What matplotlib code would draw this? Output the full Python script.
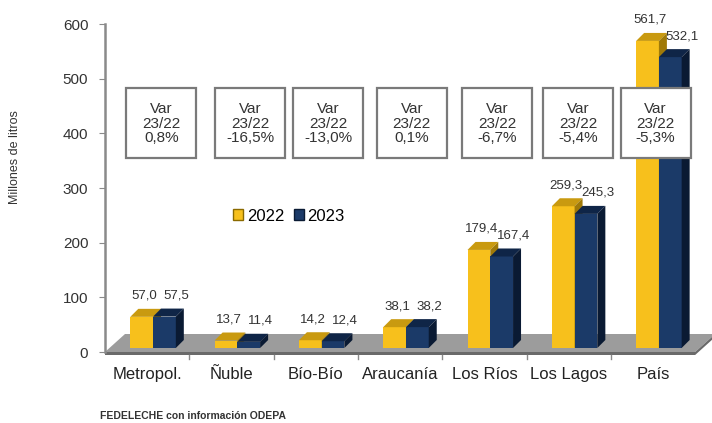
import matplotlib
matplotlib.use("Agg")
import matplotlib.pyplot as plt
from matplotlib.patches import Polygon, Rectangle, Patch

plt.rcParams['font.family'] = ['Liberation Sans', 'DejaVu Sans']

categories = ["Metropol.", "Ñuble", "Bío-Bío", "Araucanía", "Los Ríos", "Los Lagos", "País"]
values_2022 = [57.0, 13.7, 14.2, 38.1, 179.4, 259.3, 561.7]
values_2023 = [57.5, 11.4, 12.4, 38.2, 167.4, 245.3, 532.1]
labels_2022 = ["57,0", "13,7", "14,2", "38,1", "179,4", "259,3", "561,7"]
labels_2023 = ["57,5", "11,4", "12,4", "38,2", "167,4", "245,3", "532,1"]
var_labels = ["0,8%", "-16,5%", "-13,0%", "0,1%", "-6,7%", "-5,4%", "-5,3%"]
series_names = ["2022", "2023"]
yticks = [0, 100, 200, 300, 400, 500, 600]

YEL = "#f7c01c"
YEL_TOP = "#c99a10"
YEL_SIDE = "#a07a08"
BLU = "#1b3a68"
BLU_TOP = "#0f2547"
BLU_SIDE = "#0a1a33"

W, H = 712, 423
fig = plt.figure(figsize=(W / 100, H / 100), dpi=100)
# axes: px left 105, right 712, top 10, bottom 360
ax = fig.add_axes([105 / W, (H - 360) / H, 607 / W, 350 / H])
s = (352 - 24) / 600.0          # px per unit (y)
px_x = 607 / 7.2                 # px per unit (x)
ax.set_xlim(-0.5, 6.7)
ax.set_ylim(-8 / s, (352 - 10) / s)

def ux(p):
    return p / px_x

def uy(p):
    return p / s

# floor
fdx, fdy = ux(20), uy(18)
floor = Polygon([(-0.5, 0), (6.5, 0), (6.5 + fdx, fdy), (-0.5 + fdx, fdy)],
                closed=True, facecolor="#9c9c9c", edgecolor="none", zorder=1)
ax.add_patch(floor)
strip = Polygon([(-0.5, 0), (6.5, 0), (6.5 + fdx, fdy), (6.5 + fdx, fdy - uy(3)),
                 (6.5, -uy(3)), (-0.5, -uy(3))],
                closed=True, facecolor="#6a6a6a", edgecolor="none", zorder=1)
ax.add_patch(strip)
for k in range(1, 7):
    ax.plot([k - 0.5, k - 0.5], [-uy(3), -uy(7)], color="#8a8a8a", lw=1, zorder=1,
            clip_on=False)

# bars
bw = 0.27
base = uy(4)
bdx, bdy = ux(8), uy(8)
shift = 0.07

def bar3d(x, v, front, top, side, z):
    ax.bar([x], [v], width=bw, bottom=base, color=front, edgecolor="none", zorder=z)
    x0, x1 = x - bw / 2, x + bw / 2
    yt = base + v
    ax.add_patch(Polygon([(x0, yt), (x1, yt), (x1 + bdx, yt + bdy), (x0 + bdx, yt + bdy)],
                         closed=True, facecolor=top, edgecolor="none", zorder=z))
    ax.add_patch(Polygon([(x1, base), (x1 + bdx, base + bdy), (x1 + bdx, yt + bdy), (x1, yt)],
                         closed=True, facecolor=side, edgecolor="none", zorder=z))

for i in range(len(categories)):
    xy = i + shift - bw / 2
    xb = i + shift + bw / 2
    bar3d(xy, values_2022[i], YEL, YEL_TOP, YEL_SIDE, 2 + i * 0.1)
    bar3d(xb, values_2023[i], BLU, BLU_TOP, BLU_SIDE, 2.05 + i * 0.1)
    ax.annotate(labels_2022[i], (xy + bdx / 2, base + values_2022[i] + bdy),
                xytext=(-1, 5), textcoords="offset points", ha="center", va="bottom",
                fontsize=9.5, color="#333333", zorder=5)
    ax.annotate(labels_2023[i], (xb + bdx, base + values_2023[i] + bdy),
                xytext=(3, 5), textcoords="offset points", ha="center", va="bottom",
                fontsize=9.5, color="#333333", zorder=5)

# variation boxes
bxw, bxh = ux(70), uy(70)
by = uy(352 - 123.5)
box_off = [0.17, 0.22, 0.15, 0.14, 0.15, 0.11, 0.03]
for i, lab in enumerate(var_labels):
    cx = i + box_off[i]
    ax.add_patch(Rectangle((cx - bxw / 2, by - bxh / 2), bxw, bxh, facecolor="white",
                           edgecolor="#7a7a7a", lw=1.6, zorder=6))
    ax.text(cx, by, "Var\n23/22\n" + lab, ha="center", va="center", fontsize=11,
            color="#333333", linespacing=1.05, zorder=7)

# y axis
for sp in ["top", "right", "bottom"]:
    ax.spines[sp].set_visible(False)
ax.spines["left"].set_bounds(0, 600)
ax.spines["left"].set_color("#8a8a8a")
ax.spines["left"].set_linewidth(1.8)
ax.set_yticks(yticks)
ax.set_yticklabels([str(t) for t in yticks], fontsize=11, color="#333333")
ax.tick_params(axis="y", direction="out", length=4, color="#8a8a8a", pad=8)
ax.set_xticks(range(len(categories)))
ax.set_xticklabels(categories, fontsize=12, color="#222222")
ax.tick_params(axis="x", length=0, pad=5)
ax.patch.set_alpha(0)

# legend
handles = [Patch(facecolor=YEL, edgecolor="#8a6a00"), Patch(facecolor=BLU, edgecolor=BLU_SIDE)]
ax.legend(handles, series_names, loc="center", bbox_to_anchor=((289 - 105) / 607, (360 - 216) / 350),
          ncol=2, frameon=False, fontsize=12, handlelength=0.6, handleheight=0.6,
          handletextpad=0.2, columnspacing=0.6)

fig.text(15 / W, 1 - 157 / H, "Millones de litros", rotation=90, ha="center", va="center",
         fontsize=9, color="#333333")
fig.text(100 / W, 1 - 416 / H, "FEDELECHE con información ODEPA", ha="left", va="center",
         fontsize=7.5, color="#333333", fontweight="bold")

fig.savefig("out.png", dpi=100)
